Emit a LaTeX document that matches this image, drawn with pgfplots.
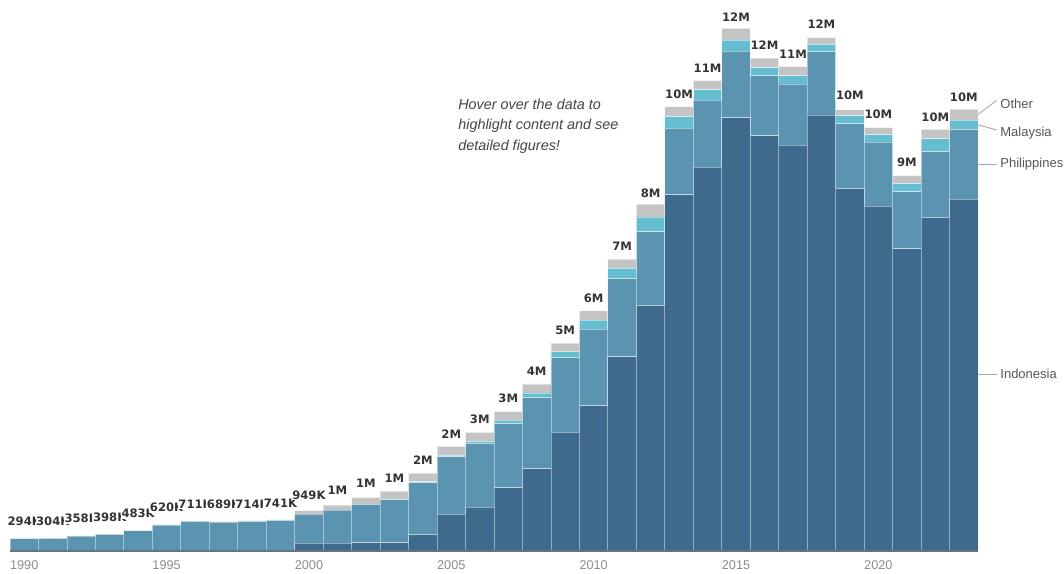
\documentclass[border=0pt]{standalone}
\usepackage{fontspec}
\setmainfont{Liberation Sans}
\newfontfamily\barfont{DejaVu Sans}
\usepackage{pgfplots}
\usepackage{pgfplotstable}
\pgfplotsset{compat=1.18}

\definecolor{indo}{HTML}{3E6A8E}
\definecolor{phil}{HTML}{5B94B0}
\definecolor{mala}{HTML}{64BED0}
\definecolor{othr}{HTML}{C4C4C4}
\definecolor{lbl}{HTML}{333333}
\definecolor{tickc}{HTML}{8C8C8C}
\definecolor{notec}{HTML}{444444}
\definecolor{leadc}{HTML}{A8A8A8}
\definecolor{legtxt}{HTML}{555555}
\definecolor{basec}{HTML}{6A7480}

\tikzset{
  seg/.style={draw=white, draw opacity=0.45, line width=0.8bp},
  notetext/.style={anchor=base west, inner sep=0pt, text=notec,
    font=\itshape\fontsize{14.4bp}{17bp}\selectfont},
  legtext/.style={anchor=west, inner sep=0pt, text=legtxt,
    font=\fontsize{13bp}{15bp}\selectfont},
  leader/.style={draw=leadc, line width=0.9bp},
}

% Arrivals by nationality, millions
\pgfplotstableread{
year indo  phil  mal   other label
1990 0     0.289 0     0.005 294K
1991 0     0.299 0     0.005 304K
1992 0     0.352 0     0.006 358K
1993 0     0.392 0     0.006 398K
1994 0     0.475 0     0.008 483K
1995 0     0.610 0     0.010 620K
1996 0     0.699 0     0.012 711K
1997 0     0.677 0     0.012 689K
1998 0     0.699 0     0.015 714K
1999 0     0.721 0     0.020 741K
2000 0.19  0.675 0.004 0.080 949K
2001 0.19  0.770 0.005 0.115 1M
2002 0.20  0.895 0.010 0.150 1M
2003 0.20  1.006 0.010 0.190 1M
2004 0.39  1.220 0.025 0.195 2M
2005 0.87  1.350 0.030 0.210 2M
2006 1.035 1.500 0.045 0.210 3M
2007 1.49  1.510 0.080 0.200 3M
2008 1.94  1.670 0.110 0.210 4M
2009 2.80  1.750 0.140 0.200 5M
2010 3.42  1.800 0.215 0.215 6M
2011 4.57  1.840 0.240 0.220 7M
2012 5.78  1.730 0.350 0.300 8M
2013 8.38  1.570 0.270 0.230 10M
2014 9.03  1.580 0.240 0.220 11M
2015 10.20 1.560 0.260 0.280 12M
2016 9.77  1.410 0.190 0.230 12M
2017 9.55  1.440 0.190 0.220 11M
2018 10.26 1.490 0.170 0.160 12M
2019 8.53  1.520 0.190 0.140 10M
2020 8.12  1.500 0.180 0.160 10M
2021 7.11  1.340 0.190 0.190 9M
2022 7.85  1.550 0.300 0.220 10M
2023 8.28  1.640 0.220 0.260 10M
}\arrivals

\begin{document}
\begin{tikzpicture}
\begin{axis}[
  at={(0,0)}, anchor=south west,
  scale only axis, width=968bp, height=551bp,
  xmin=1989.5, xmax=2023.5, ymin=0, ymax=12.965,
  ybar stacked, bar width=1,
  hide y axis, axis x line*=bottom,
  x axis line style={draw=basec, line width=1.5bp},
  xtick={1990,1995,2000,2005,2010,2015,2020},
  xticklabels={1990,1995,2000,2005,2010,2015,2020},
  major tick length=0pt,
  xticklabel style={font=\fontsize{12.7bp}{14bp}\selectfont, text=tickc,
    anchor=north, inner sep=0pt, yshift=-9.5bp},
  axis on top, clip=false,
]
\addplot[seg, fill=indo] table[x=year, y=indo] {\arrivals};
\addplot[seg, fill=phil] table[x=year, y=phil] {\arrivals};
\addplot[seg, fill=mala] table[x=year, y=mal] {\arrivals};
\addplot[seg, fill=othr, nodes near coords, point meta=explicit symbolic,
  every node near coord/.append style={anchor=south, yshift=11.5bp,
    font=\barfont\bfseries\fontsize{11.6bp}{12bp}\selectfont, text=lbl,
    fill=white, inner xsep=0.6bp, inner ysep=1bp}]
  table[x=year, y=other, meta=label] {\arrivals};

% note
\node[notetext] at (axis cs:2005.24,10.393) {Hover over the data to};
\node[notetext] at (axis cs:2005.24,9.911) {highlight content and see};
\node[notetext] at (axis cs:2005.24,9.428) {detailed figures!};

% series labels beside the last bar
\draw[leader] (axis cs:2023.5,10.27) -- (axis cs:2024.15,10.60);
\node[legtext] at (axis cs:2024.28,10.52) {Other};
\draw[leader] (axis cs:2023.5,10.03) -- (axis cs:2024.15,9.906);
\node[legtext] at (axis cs:2024.28,9.83) {Malaysia};
\draw[leader] (axis cs:2023.5,9.106) -- (axis cs:2024.15,9.106);
\node[legtext] at (axis cs:2024.28,9.106) {Philippines};
\draw[leader] (axis cs:2023.5,4.158) -- (axis cs:2024.15,4.158);
\node[legtext] at (axis cs:2024.28,4.158) {Indonesia};
\end{axis}
\pgfresetboundingbox
\useasboundingbox (-10bp,-23bp) rectangle (1054bp,551bp);
\end{tikzpicture}
\end{document}
